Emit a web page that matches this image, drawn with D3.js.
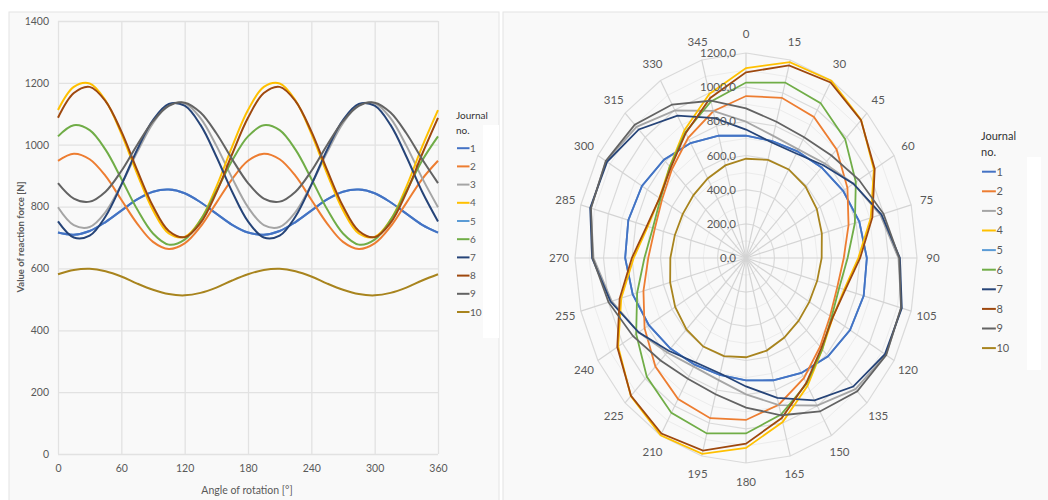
<!DOCTYPE html>
<html>
<head>
<meta charset="utf-8">
<script src="https://cdn.jsdelivr.net/npm/d3@7"></script>
<style>
  body { margin: 0; background: #fff; }
  svg { display: block; font-family: Lato, "Open Sans", sans-serif; }
</style>
</head>
<body>
<svg id="chart" width="1048" height="500"></svg>
<script>
// angle of rotation, degrees (360 closes the line chart)
const angles = [0, 15, 30, 45, 60, 75, 90, 105, 120, 135, 150, 165,
  180, 195, 210, 225, 240, 255, 270, 285, 300, 315, 330, 345, 360];

const journals = ['1', '2', '3', '4', '5', '6', '7', '8', '9', '10'];
const colors = ['#4472c4', '#ed7d31', '#a5a5a5', '#ffc000', '#5b9bd5',
  '#70ad47', '#264478', '#9e480e', '#636363', '#a8841e'];

// reaction force [N] per journal
const j1 = [716, 709, 721, 750, 787, 823, 848, 855, 843, 814, 777, 741,
  716, 709, 721, 750, 787, 823, 848, 855, 843, 814, 777, 741, 716];
const j2 = [948, 971, 953, 899, 822, 745, 686, 663, 681, 735, 812, 889,
  948, 971, 953, 899, 822, 745, 686, 663, 681, 735, 812, 889, 948];
const j3 = [798, 740, 734, 782, 871, 976, 1070, 1128, 1134, 1086, 997, 892,
  798, 740, 734, 782, 871, 976, 1070, 1128, 1134, 1086, 997, 892, 798];
const j4 = [1112, 1187, 1198, 1143, 1036, 906, 788, 713, 702, 757, 864, 994,
  1112, 1187, 1198, 1143, 1036, 906, 788, 713, 702, 757, 864, 994, 1112];
const j5 = [716, 709, 721, 750, 787, 823, 848, 855, 843, 814, 777, 741,
  716, 709, 721, 750, 787, 823, 848, 855, 843, 814, 777, 741, 716];
const j6 = [1027, 1063, 1047, 984, 890, 791, 713, 677, 693, 756, 850, 949,
  1027, 1063, 1047, 984, 890, 791, 713, 677, 693, 756, 850, 949, 1027];
const j7 = [752, 700, 706, 768, 870, 984, 1080, 1132, 1126, 1064, 962, 848,
  752, 700, 706, 768, 870, 984, 1080, 1132, 1126, 1064, 962, 848, 752];
const j8 = [1087, 1167, 1187, 1141, 1043, 918, 801, 721, 701, 747, 845, 970,
  1087, 1167, 1187, 1141, 1043, 918, 801, 721, 701, 747, 845, 970, 1087];
const j9 = [876, 826, 816, 848, 915, 999, 1076, 1126, 1136, 1104, 1037, 953,
  876, 826, 816, 848, 915, 999, 1076, 1126, 1136, 1104, 1037, 953, 876];
const j10 = [581, 595, 599, 591, 574, 551, 531, 517, 513, 521, 538, 561,
  581, 595, 599, 591, 574, 551, 531, 517, 513, 521, 538, 561, 581];

const seriesValues = [j1, j2, j3, j4, j5, j6, j7, j8, j9, j10];

const xTicks = [0, 60, 120, 180, 240, 300, 360];
const yTicks = [0, 200, 400, 600, 800, 1000, 1200, 1400];
const ringTicks = [0, 200, 400, 600, 800, 1000, 1200];
const ringMinor = [100, 300, 500, 700, 900, 1100];

const series = journals.map((name, i) => ({
  name,
  color: colors[i],
  points: angles.map((a, k) => ({angle: a, value: seriesValues[i][k]}))
}));
// journal 5 sits under journal 1 in the picture
const drawOrder = [series[4], ...series.filter((d, i) => i !== 4)];

const svg = d3.select('#chart');
const textColor = '#595959';
const gridColor = '#e2e2e2';

// panels
svg.append('rect')
    .attr('x', 9).attr('y', 12).attr('width', 490).attr('height', 490)
    .attr('fill', '#f9f9f9').attr('stroke', '#e4e4e4')
  ;
svg.append('rect')
    .attr('x', 503).attr('y', 12).attr('width', 546).attr('height', 490)
    .attr('fill', '#f9f9f9').attr('stroke', '#e4e4e4')
  ;

// ---------- left: line chart ----------
const plot = {left: 58, right: 438, top: 21, bottom: 454};
const x = d3.scaleLinear().domain([0, 360]).range([plot.left, plot.right]);
const y = d3.scaleLinear().domain([0, 1400]).range([plot.bottom, plot.top]);

const left = svg.append('g');

left.append('g')
    .attr('transform', `translate(0,${plot.bottom})`)
    .call(d3.axisBottom(x).tickValues(xTicks).tickSize(-(plot.bottom - plot.top)).tickPadding(11))
    .call(g => g.select('.domain').remove())
    .call(g => g.selectAll('line').attr('stroke', gridColor).attr('stroke-width', 1.3))
    .call(g => g.selectAll('text').attr('fill', textColor).attr('font-size', 10.5).attr('font-family', 'Lato'))
  ;
left.append('g')
    .attr('transform', `translate(${plot.left},0)`)
    .call(d3.axisLeft(y).tickValues(yTicks).tickFormat(d3.format('d'))
      .tickSize(-(plot.right - plot.left)).tickPadding(9))
    .call(g => g.select('.domain').remove())
    .call(g => g.selectAll('line').attr('stroke', gridColor).attr('stroke-width', 1.3))
    .call(g => g.selectAll('text').attr('fill', textColor).attr('font-size', 10.5).attr('font-family', 'Lato'))
  ;

const line = d3.line()
    .x(d => x(d.angle))
    .y(d => y(d.value))
    .curve(d3.curveCatmullRom.alpha(0.5))
  ;
left.append('g')
  .selectAll('path')
  .data(drawOrder)
  .join('path')
    .attr('fill', 'none')
    .attr('stroke', d => d.color)
    .attr('stroke-width', 2)
    .attr('d', d => line(d.points))
  ;

left.append('text')
    .attr('x', 247).attr('y', 494)
    .attr('text-anchor', 'middle')
    .attr('font-size', 10.5)
    .attr('fill', textColor)
    .text('Angle of rotation [°]')
  ;
left.append('text')
    .attr('transform', 'translate(24,237) rotate(-90)')
    .attr('text-anchor', 'middle')
    .attr('font-size', 9.5)
    .attr('font-weight', 'bold')
    .attr('fill', textColor)
    .text('Value of reaction force [N]')
  ;

// legend helper
function legend(g, x0, y0, step, size) {
  g.append('text')
      .attr('x', x0).attr('y', y0)
      .attr('font-size', size).attr('fill', '#333')
      .text('Journal')
    ;
  g.append('text')
      .attr('x', x0).attr('y', y0 + size * 1.45)
      .attr('font-size', size).attr('fill', '#333')
      .text('no.')
    ;
  const item = g.selectAll('g.item')
    .data(series)
    .join('g')
      .attr('class', 'item')
      .attr('transform', (d, i) => `translate(${x0},${y0 + size * 1.45 + step * (i + 1)})`)
    ;
  item.append('line')
      .attr('x1', 1).attr('x2', size * 1.35)
      .attr('y1', -size * 0.35).attr('y2', -size * 0.35)
      .attr('stroke', d => d.color).attr('stroke-width', 2)
    ;
  item.append('text')
      .attr('x', size * 1.4)
      .attr('font-size', size).attr('fill', textColor)
      .text(d => d.name)
    ;
}

svg.append('rect')
    .attr('x', 483).attr('y', 125).attr('width', 16).attr('height', 213)
    .attr('fill', '#fff')
  ;
legend(svg.append('g'), 456, 119, 18.2, 10);

// ---------- right: radar (squashed horizontally like the picture) ----------
const cx = 746, cy = 258;
const rx = d3.scaleLinear().domain([0, 1200]).range([0, 171]);
const ry = d3.scaleLinear().domain([0, 1200]).range([0, 205]);
const radarAngles = angles.slice(0, 24);
const rad = a => a * Math.PI / 180;
const px = (a, v) => cx + rx(v) * Math.sin(rad(a));
const py = (a, v) => cy - ry(v) * Math.cos(rad(a));

const radar = svg.append('g');

const ring = d3.line()
    .x(d => px(d.a, d.v))
    .y(d => py(d.a, d.v))
    .curve(d3.curveLinearClosed)
  ;
radar.append('g')
  .selectAll('path')
  .data(ringMinor)
  .join('path')
    .attr('fill', 'none')
    .attr('stroke', '#ececec')
    .attr('stroke-width', 1)
    .attr('d', v => ring(radarAngles.map(a => ({a, v}))))
  ;
radar.append('g')
  .selectAll('path')
  .data(ringTicks.slice(1))
  .join('path')
    .attr('fill', 'none')
    .attr('stroke', '#dadada')
    .attr('stroke-width', 1.2)
    .attr('d', v => ring(radarAngles.map(a => ({a, v}))))
  ;
radar.append('g')
  .selectAll('line')
  .data(radarAngles)
  .join('line')
    .attr('x1', cx).attr('y1', cy)
    .attr('x2', a => px(a, 1200)).attr('y2', a => py(a, 1200))
    .attr('stroke', '#d4d4d4')
    .attr('stroke-width', 1.2)
  ;

const shape = d3.line()
    .x(d => px(d.angle, d.value))
    .y(d => py(d.angle, d.value))
    .curve(d3.curveLinearClosed)
  ;
radar.append('g')
  .selectAll('path')
  .data(drawOrder)
  .join('path')
    .attr('fill', 'none')
    .attr('stroke', d => d.color)
    .attr('stroke-width', 1.8)
    .attr('d', d => shape(d.points.slice(0, 24)))
  ;

radar.append('g')
  .selectAll('text')
  .data(ringTicks)
  .join('text')
    .attr('x', cx - 10)
    .attr('y', v => cy - ry(v))
    .attr('dy', '0.35em')
    .attr('text-anchor', 'end')
    .attr('font-size', 11.5)
    .attr('fill', textColor)
    .text(v => d3.format('.1f')(v).replace('.', ','))
  ;
radar.append('g')
  .selectAll('text')
  .data(radarAngles)
  .join('text')
    .attr('x', a => cx + (rx(1200) + 16) * Math.sin(rad(a)))
    .attr('y', a => cy - (ry(1200) + 19) * Math.cos(rad(a)))
    .attr('dy', '0.35em')
    .attr('text-anchor', 'middle')
    .attr('font-size', 11.5)
    .attr('fill', textColor)
    .text(a => a)
  ;

svg.append('rect')
    .attr('x', 1027).attr('y', 157).attr('width', 14).attr('height', 213)
    .attr('fill', '#fff')
  ;
legend(svg.append('g'), 981, 140, 19.6, 11);
</script>
</body>
</html>
